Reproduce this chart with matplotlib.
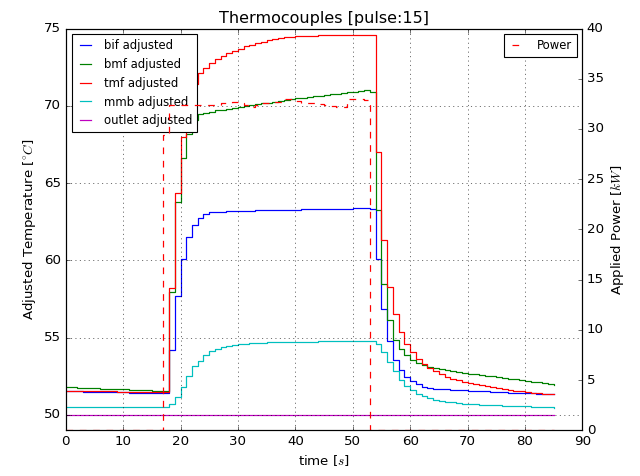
"""
Thermocouple temperatures and applied power for pulse 15
"""

import matplotlib
matplotlib.use('Agg')
import numpy as np
import matplotlib.pyplot as plt

plt.style.use('classic')
plt.rcParams['lines.linewidth'] = 1.1

# sample times [s], one reading per second
time = np.arange(86)

bif = [51.54, 51.53, 51.52, 51.51, 51.51, 51.50, 51.49, 51.48, 51.48, 51.47,
       51.46, 51.45, 51.45, 51.44, 51.43, 51.42, 51.42, 51.41, 54.18, 57.67,
       60.07, 61.52, 62.32, 62.77, 63.03, 63.10, 63.14, 63.16, 63.18, 63.19,
       63.20, 63.21, 63.22, 63.23, 63.24, 63.25, 63.26, 63.27, 63.27, 63.28,
       63.29, 63.30, 63.30, 63.31, 63.32, 63.32, 63.33, 63.34, 63.34, 63.35,
       63.36, 63.36, 63.36, 63.33, 60.07, 56.87, 54.80, 53.57, 52.90, 52.45,
       52.17, 51.97, 51.84, 51.76, 51.71, 51.68, 51.66, 51.64, 51.62, 51.60,
       51.58, 51.56, 51.54, 51.52, 51.50, 51.48, 51.47, 51.45, 51.43, 51.42,
       51.40, 51.39, 51.37, 51.36, 51.35, 51.33]

bmf = [51.80, 51.78, 51.77, 51.75, 51.74, 51.72, 51.71, 51.69, 51.68, 51.66,
       51.65, 51.63, 51.62, 51.60, 51.59, 51.57, 51.56, 51.54, 57.93, 63.78,
       66.61, 68.20, 69.05, 69.45, 69.55, 69.63, 69.70, 69.76, 69.82, 69.88,
       69.94, 69.99, 70.05, 70.10, 70.16, 70.21, 70.26, 70.32, 70.37, 70.43,
       70.48, 70.52, 70.57, 70.61, 70.65, 70.70, 70.74, 70.78, 70.83, 70.87,
       70.91, 70.96, 71.01, 70.92, 63.25, 58.50, 56.17, 54.87, 54.24, 53.85,
       53.55, 53.38, 53.25, 53.13, 53.03, 52.95, 52.88, 52.82, 52.76, 52.71,
       52.66, 52.62, 52.58, 52.53, 52.49, 52.45, 52.40, 52.35, 52.31, 52.26,
       52.21, 52.16, 52.10, 52.04, 51.98, 51.92]

tmf = [51.55, 51.55, 51.54, 51.54, 51.53, 51.53, 51.52, 51.52, 51.52, 51.51,
       51.51, 51.50, 51.50, 51.50, 51.49, 51.49, 51.48, 51.48, 58.19, 64.39,
       67.99, 70.20, 71.40, 72.10, 72.45, 72.78, 73.03, 73.25, 73.42, 73.56,
       73.70, 73.84, 73.96, 74.06, 74.15, 74.24, 74.32, 74.38, 74.43, 74.47,
       74.50, 74.52, 74.53, 74.54, 74.55, 74.56, 74.56, 74.57, 74.57, 74.57,
       74.58, 74.58, 74.58, 74.58, 67.02, 61.30, 58.28, 56.51, 55.36, 54.61,
       54.07, 53.64, 53.32, 53.06, 52.84, 52.65, 52.48, 52.35, 52.24, 52.15,
       52.07, 51.99, 51.92, 51.85, 51.79, 51.73, 51.67, 51.62, 51.57, 51.52,
       51.48, 51.44, 51.41, 51.38, 51.35, 51.33]

mmb = [50.53, 50.53, 50.52, 50.52, 50.52, 50.52, 50.51, 50.51, 50.51, 50.51,
       50.51, 50.51, 50.50, 50.50, 50.50, 50.50, 50.50, 50.50, 50.68, 51.15,
       51.80, 52.49, 53.14, 53.48, 53.85, 54.11, 54.29, 54.39, 54.46, 54.52,
       54.57, 54.60, 54.63, 54.65, 54.67, 54.69, 54.70, 54.71, 54.72, 54.73,
       54.74, 54.74, 54.75, 54.75, 54.76, 54.76, 54.76, 54.77, 54.77, 54.77,
       54.78, 54.78, 54.78, 54.78, 54.61, 54.07, 53.42, 52.84, 52.28, 51.85,
       51.59, 51.38, 51.22, 51.09, 50.98, 50.91, 50.86, 50.81, 50.77, 50.73,
       50.70, 50.68, 50.66, 50.65, 50.63, 50.62, 50.61, 50.59, 50.58, 50.57,
       50.56, 50.54, 50.52, 50.51, 50.49, 50.47]

outlet = [50.0] * 86

power = [0, 0, 0, 0, 0, 0, 0, 0, 0, 0,
         0, 0, 0, 0, 0, 0, 0, 29.4, 32.4, 32.4,
         32.4, 32.4, 32.4, 32.4, 32.4, 32.4, 32.4, 32.55, 32.55, 32.68,
         32.58, 32.38, 32.18, 32.38, 32.6, 32.6, 32.73, 32.73, 32.98, 32.98,
         32.78, 32.58, 32.58, 32.58, 32.48, 32.38, 32.28, 32.18, 32.23, 32.98,
         33.03, 32.98, 32.88, 0, 0, 0, 0, 0, 0, 0,
         0, 0, 0, 0, 0, 0, 0, 0, 0, 0,
         0, 0, 0, 0, 0, 0, 0, 0, 0, 0,
         0, 0, 0, 0, 0, 0]

fig = plt.figure(figsize=(8, 5.95), dpi=80, facecolor='white')
ax1 = fig.add_axes([0.1027, 0.0958, 0.8072, 0.8443])

ax1.plot(time, bif, 'b', drawstyle='steps-post', label='bif adjusted')
ax1.plot(time, bmf, 'g', drawstyle='steps-post', label='bmf adjusted')
ax1.plot(time, tmf, 'r', drawstyle='steps-post', label='tmf adjusted')
ax1.plot(time, mmb, 'c', drawstyle='steps-post', label='mmb adjusted')
ax1.plot(time, outlet, 'm', drawstyle='steps-post', label='outlet adjusted')
ax1.set_xlim(0, 90)
ax1.set_ylim(49, 75)
ax1.set_xlabel('time [$s$]')
ax1.set_ylabel(r'Adjusted Temperature [$^{\circ}C$]')
ax1.set_title('Thermocouples [pulse:15]')
ax1.grid(True)
ax1.legend(loc='upper left', fontsize=10.5, handlelength=1.6)

# power on its own axis
ax2 = ax1.twinx()
ax2.plot(time, power, 'r--', drawstyle='steps-post', label='Power')
ax2.set_ylim(0, 40)
ax2.set_ylabel('Applied Power [$kW$]')
ax2.legend(loc='upper right', fontsize=10.5, handlelength=1.6)

fig.savefig('out.png', dpi=80, facecolor='white')
